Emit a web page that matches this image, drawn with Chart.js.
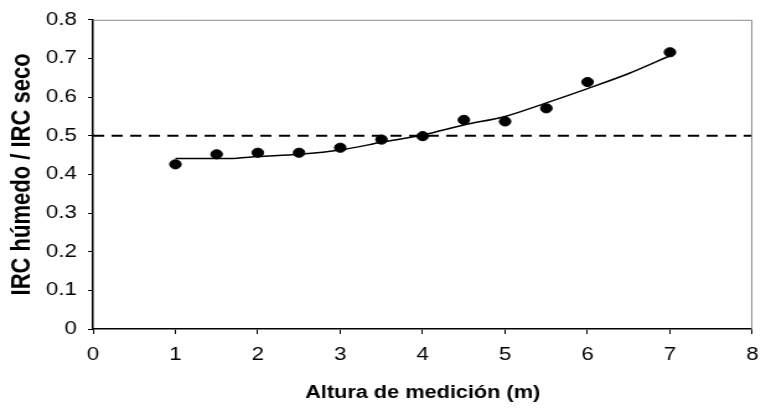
<!DOCTYPE html>
<html>
<head>
<meta charset="utf-8">
<script src="https://cdn.jsdelivr.net/npm/chart.js@4/dist/chart.umd.min.js"></script>
<style>
  html, body { margin: 0; padding: 0; background: #fff; }
  #c { display: block; width: 771px !important; height: 412px !important; }
</style>
</head>
<body>
<canvas id="c" width="622" height="412" style="width:771px;height:412px"></canvas>
<script>
// Data
const alturas = [1, 1.5, 2, 2.5, 3, 3.5, 4, 4.5, 5, 5.5, 6, 7];
const ratioIRC = [0.426, 0.452, 0.456, 0.456, 0.469, 0.490, 0.499, 0.541, 0.537, 0.571, 0.639, 0.716];
const tendenciaX = [1, 1.5, 1.75, 2, 2.5, 3, 3.5, 4, 4.5, 5, 5.5, 6, 6.5, 7];
const tendenciaY = [0.441, 0.441, 0.442, 0.446, 0.452, 0.463, 0.483, 0.502, 0.528, 0.550, 0.585, 0.622, 0.661, 0.707];
const referenciaX = [0, 8];
const referenciaY = [0.5, 0.5];
const xTickLabels = ['0', '1', '2', '3', '4', '5', '6', '7', '8'];
const yTickLabels = ['0', '0.1', '0.2', '0.3', '0.4', '0.5', '0.6', '0.7', '0.8'];
const xTitle = 'Altura de medición (m)';
const yTitle = 'IRC húmedo / IRC seco';

const toPts = (xs, ys) => xs.map((x, i) => ({ x: x, y: ys[i] }));

const framePlugin = {
  id: 'frame',
  afterDatasetsDraw(chart) {
    const { ctx, chartArea: a } = chart;
    ctx.save();
    ctx.strokeStyle = '#8a8a8a';
    ctx.lineWidth = 1;
    ctx.beginPath();
    ctx.moveTo(a.left, a.top + 0.5);
    ctx.lineTo(a.right - 0.5, a.top + 0.5);
    ctx.lineTo(a.right - 0.5, a.bottom);
    ctx.stroke();
    ctx.restore();
  }
};

const font = { family: '"Liberation Sans", Arial, sans-serif', size: 18 };
const xTitleFont = { family: '"Liberation Sans", Arial, sans-serif', size: 17.5, weight: 'bold' };
const yTitleFont = { family: '"Liberation Sans", Arial, sans-serif', size: 22, weight: 'bold' };

new Chart(document.getElementById('c'), {
  type: 'scatter',
  data: {
    datasets: [
      {
        label: 'Referencia',
        data: toPts(referenciaX, referenciaY),
        showLine: true,
        borderColor: '#000',
        borderWidth: 2,
        borderDash: [9, 6],
        pointRadius: 0,
        order: 3
      },
      {
        label: 'Tendencia',
        data: toPts(tendenciaX, tendenciaY),
        showLine: true,
        borderColor: '#000',
        borderWidth: 1.5,
        pointRadius: 0,
        tension: 0.3,
        order: 2
      },
      {
        label: 'IRC húmedo / IRC seco',
        data: toPts(alturas, ratioIRC),
        showLine: false,
        backgroundColor: '#000',
        borderColor: '#000',
        pointRadius: 4.6,
        pointHoverRadius: 4.6,
        order: 1
      }
    ]
  },
  options: {
    responsive: false,
    devicePixelRatio: 1,
    animation: false,
    layout: { padding: { left: 0, right: 5, top: 18, bottom: 0 } },
    plugins: { legend: { display: false }, tooltip: { enabled: false } },
    scales: {
      x: {
        type: 'linear',
        min: 0, max: 8,
        afterFit(scale) { scale.height = 83; },
        ticks: {
          stepSize: 1,
          color: '#000',
          font: font,
          padding: 10,
          maxRotation: 0,
          callback: (v) => xTickLabels[Math.round(v)] ?? ''
        },
        grid: { drawOnChartArea: false, drawTicks: true, tickLength: 5, color: '#000', lineWidth: 1 },
        border: { color: '#000', width: 1.5 },
        title: { display: true, text: xTitle, color: '#000', font: xTitleFont, padding: { top: 0, bottom: 8 } }
      },
      y: {
        type: 'linear',
        min: 0, max: 0.8,
        afterFit(scale) { scale.width = 75; },
        ticks: {
          stepSize: 0.1,
          color: '#000',
          font: font,
          padding: 9,
          callback: (v) => yTickLabels[Math.round(v * 10)] ?? ''
        },
        grid: { drawOnChartArea: false, drawTicks: true, tickLength: 4, color: '#000', lineWidth: 1 },
        border: { color: '#000', width: 1.5 },
        title: { display: true, text: yTitle, color: '#000', font: yTitleFont, padding: { top: 5, bottom: 0 } }
      }
    }
  },
  plugins: [framePlugin]
});
</script>
</body>
</html>
